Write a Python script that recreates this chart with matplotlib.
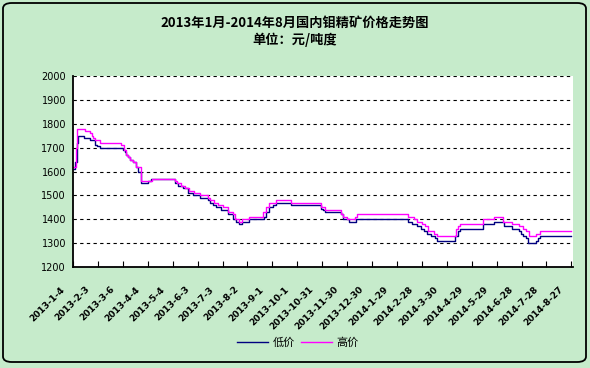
import matplotlib.pyplot as plt
from matplotlib.patches import FancyBboxPatch
from matplotlib.transforms import ScaledTranslation

plt.rcParams['font.family'] = ['Noto Sans CJK SC', 'DejaVu Sans']

# ---- data (days after 2013-1-4, price in 元/吨度) ----
low_day = [0, 2.4, 4.4, 6.4, 13.2, 20.4, 26, 29, 32.4, 60.4, 62.4, 64.4, 66.4, 69, 72.4,
           75.6, 78.4, 82.4, 90.4, 94.4, 122.4, 126.4, 132.4, 138.4, 144.4, 153.2, 162.4,
           165.2, 168.4, 172.4, 178.4, 186.4, 192.4, 196.4, 199.6, 203.6, 211.6, 230.4,
           232.4, 236.4, 240.4, 244.4, 262.4, 298.4, 300.4, 303.6, 322.4, 325.2, 332.4,
           340.4, 403.6, 408.4, 414.4, 418.4, 422.4, 426.4, 431.6, 435.6, 438.4, 460.4,
           463.6, 466.4, 493.2, 506.4, 519.2, 528.4, 536.4, 539.2, 542.4, 545.2, 548.4,
           557.2, 559.6, 562.4, 600]
low_val = [1610, 1640, 1720, 1750, 1740, 1730, 1710, 1705, 1700, 1690, 1680, 1670, 1660, 1650, 1640,
           1620, 1600, 1550, 1560, 1570, 1550, 1540, 1530, 1510, 1500, 1490, 1480,
           1470, 1460, 1450, 1440, 1420, 1400, 1390, 1380, 1390, 1400, 1410,
           1430, 1450, 1460, 1470, 1460, 1445, 1440, 1430, 1420, 1400, 1390,
           1400, 1390, 1380, 1370, 1360, 1350, 1340, 1330, 1320, 1310, 1330,
           1350, 1360, 1380, 1390, 1370, 1360, 1350, 1340, 1330, 1320, 1300,
           1310, 1320, 1330, 1330]

high_day = [0, 3.2, 5.2, 14.4, 20.4, 22.4, 24.4, 26.4, 32.4, 57.2, 61.2, 63.6, 66.4, 69.2, 72.4,
            75.6, 82.4, 95.6, 122.4, 125.2, 130.4, 134.4, 139.6, 145.2, 153.2, 162.4, 165.2,
            169.2, 174.4, 180.4, 186.4, 192.4, 195.6, 200.4, 203.6, 212.4, 229.2, 232.4,
            236.4, 244.4, 262.4, 298.4, 303.6, 322.4, 325.2, 330.4, 339.6, 342.4, 403.6,
            410.4, 414.4, 419.6, 423.6, 427.6, 434.4, 438.4, 461.2, 463.6, 466.4, 493.2,
            506.4, 517.2, 528.4, 536.4, 541.2, 545.2, 549.2, 557.2, 562.4, 600]
high_val = [1620, 1700, 1780, 1770, 1760, 1750, 1740, 1730, 1720, 1710, 1690, 1670, 1660, 1650, 1640,
            1620, 1560, 1570, 1560, 1550, 1540, 1530, 1520, 1510, 1500, 1490, 1480,
            1470, 1460, 1450, 1430, 1420, 1400, 1390, 1400, 1410, 1430, 1450,
            1470, 1480, 1470, 1450, 1440, 1420, 1410, 1400, 1410, 1420, 1410,
            1400, 1390, 1380, 1370, 1350, 1340, 1330, 1360, 1370, 1380, 1400,
            1410, 1390, 1380, 1370, 1360, 1350, 1330, 1340, 1350, 1350]

tick_days = list(range(0, 601, 30))
tick_labels = ['2013-1-4', '2013-2-3', '2013-3-6', '2013-4-4', '2013-5-4', '2013-6-3',
               '2013-7-3', '2013-8-2', '2013-9-1', '2013-10-1', '2013-10-31', '2013-11-30',
               '2013-12-30', '2014-1-29', '2014-2-28', '2014-3-30', '2014-4-29', '2014-5-29',
               '2014-6-28', '2014-7-28', '2014-8-27']

bg = '#C6EBCB'
fig = plt.figure(figsize=(5.9, 3.68), dpi=100, facecolor=bg)

# chart frame with rounded corners
frame = FancyBboxPatch((3 / 590, 6 / 368), 583 / 590, 359 / 368,
                       boxstyle='round,pad=0,rounding_size=0.015',
                       transform=fig.transFigure, facecolor=bg, edgecolor='black',
                       linewidth=1.3, zorder=0)
fig.add_artist(frame)

ax = fig.add_axes([73 / 590, 1 - 267 / 368, 500 / 590, 191 / 368])
ax.set_facecolor('white')

ax.plot(low_day, low_val, drawstyle='steps-post', color='#000080', lw=1.0, label='低价')
ax.plot(high_day, high_val, drawstyle='steps-post', color='#FF00FF', lw=1.0, label='高价')

ax.set_xlim(0, 602)
ax.set_ylim(1200, 2000)
ax.set_yticks(range(1200, 2001, 100))
ax.yaxis.grid(True, linestyle=(0, (3, 3)), color='black', lw=0.8)
ax.set_axisbelow(True)
for s in ['top', 'right']:
    ax.spines[s].set_visible(False)
for s in ['left', 'bottom']:
    ax.spines[s].set_linewidth(1.3)

ax.tick_params(axis='y', length=0, labelsize=7, pad=5)
for lab in ax.get_yticklabels():
    lab.set_family('DejaVu Sans')
ax.set_xticks(tick_days)
ax.set_xticklabels(tick_labels, rotation=45, ha='right', va='top',
                   rotation_mode='anchor', fontsize=6.5, fontweight='bold',
                   family='DejaVu Sans')
ax.tick_params(axis='x', direction='in', length=4, pad=2)
for lab in ax.get_xticklabels():
    lab.set_transform(lab.get_transform() + ScaledTranslation(-0.13, -0.15, fig.dpi_scale_trans))

fig.text(0.5, 1 - 23 / 368, '2013年1月-2014年8月国内钼精矿价格走势图',
         ha='center', va='center', fontsize=9.5, fontweight='bold')
fig.text(0.5, 1 - 40 / 368, '单位：元/吨度',
         ha='center', va='center', fontsize=9.5, fontweight='bold')

fig.legend(loc='center', bbox_to_anchor=(0.505, 1 - 343 / 368), ncol=2, frameon=False,
           fontsize=8, handlelength=2.8, columnspacing=0.6, handletextpad=0.4)

fig.savefig('out.png', dpi=100, facecolor=bg)
